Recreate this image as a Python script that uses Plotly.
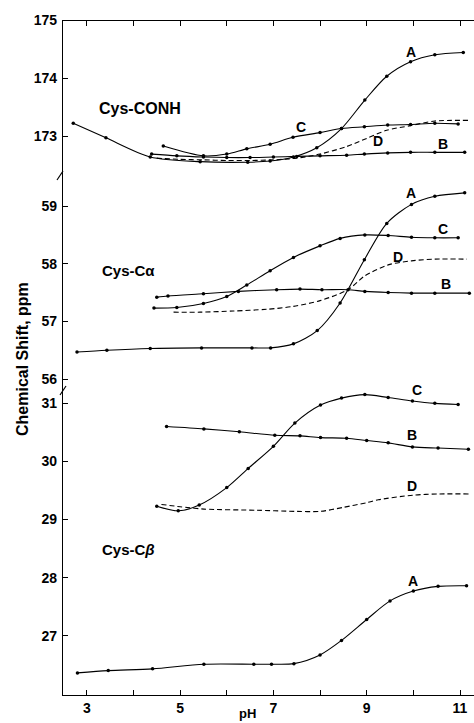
import plotly.graph_objects as go

# ---------------- data ----------------
# Cys-CONH (top panel)
conh_A_ph = [2.71, 3.41, 4.36, 5.43, 6.45, 6.93, 7.43, 7.93, 8.46, 8.96, 9.43, 9.94, 10.46, 11.07]
conh_A = [173.22, 172.97, 172.64, 172.56, 172.55, 172.57, 172.64, 172.80, 173.13, 173.62, 174.03, 174.28, 174.40, 174.44]
conh_C_ph = [4.64, 5.5, 6.0, 6.43, 6.93, 7.42, 8.0, 8.46, 8.95, 9.45, 9.94, 10.46, 10.96]
conh_C = [172.83, 172.66, 172.69, 172.78, 172.86, 172.98, 173.06, 173.13, 173.16, 173.19, 173.20, 173.22, 173.21]
conh_B_ph = [4.39, 4.93, 5.5, 6.0, 6.5, 7.0, 7.5, 8.0, 8.57, 8.95, 9.45, 9.94, 10.46, 11.1]
conh_B = [172.69, 172.66, 172.64, 172.63, 172.63, 172.64, 172.65, 172.66, 172.67, 172.69, 172.71, 172.72, 172.72, 172.72]
conh_D_ph = [4.5, 5.0, 5.5, 6.0, 6.5, 7.0, 7.5, 8.0, 8.57, 9.0, 9.43, 9.94, 10.46, 11.2]
conh_D = [172.62, 172.60, 172.59, 172.58, 172.58, 172.59, 172.62, 172.69, 172.82, 172.96, 173.10, 173.18, 173.26, 173.27]

# Cys-C alpha (middle panel)
ca_A_ph = [2.79, 3.43, 4.36, 5.46, 6.54, 6.94, 7.43, 7.94, 8.43, 8.95, 9.43, 9.96, 10.46, 11.1]
ca_A = [56.47, 56.50, 56.53, 56.54, 56.54, 56.54, 56.61, 56.84, 57.32, 58.07, 58.70, 59.03, 59.17, 59.23]
ca_C_ph = [4.44, 4.93, 5.5, 6.0, 6.43, 6.93, 7.43, 8.0, 8.43, 8.96, 9.46, 9.96, 10.46, 10.96]
ca_C = [57.23, 57.24, 57.31, 57.43, 57.63, 57.88, 58.11, 58.31, 58.44, 58.50, 58.49, 58.46, 58.45, 58.45]
ca_B_ph = [4.5, 4.74, 5.5, 6.25, 7.07, 7.57, 8.04, 8.6, 8.96, 9.46, 9.96, 10.46, 11.2]
ca_B = [57.42, 57.44, 57.48, 57.52, 57.55, 57.56, 57.55, 57.55, 57.52, 57.50, 57.49, 57.49, 57.49]
ca_D_ph = [4.86, 5.43, 6.14, 6.86, 7.43, 8.0, 8.6, 8.96, 9.46, 9.96, 10.46, 11.15]
ca_D = [57.16, 57.16, 57.18, 57.21, 57.26, 57.36, 57.55, 57.79, 57.98, 58.05, 58.08, 58.08]

# Cys-C beta (bottom panel)
cb_A_ph = [2.8, 3.46, 4.41, 5.51, 6.58, 6.96, 7.44, 8.0, 8.46, 9.0, 9.5, 10.0, 10.53, 11.14]
cb_A = [26.36, 26.40, 26.43, 26.51, 26.51, 26.51, 26.52, 26.67, 26.92, 27.28, 27.60, 27.77, 27.85, 27.86]
cb_C_ph = [4.5, 4.96, 5.41, 6.0, 6.46, 7.0, 7.46, 8.01, 8.46, 8.96, 9.46, 9.98, 10.46, 10.96]
cb_C = [29.23, 29.15, 29.25, 29.55, 29.88, 30.26, 30.66, 30.97, 31.09, 31.15, 31.10, 31.04, 31.00, 30.98]
cb_B_ph = [4.71, 5.51, 6.27, 7.03, 7.57, 8.01, 8.57, 9.0, 9.46, 9.98, 10.53, 11.18]
cb_B = [30.60, 30.56, 30.51, 30.45, 30.44, 30.41, 30.40, 30.36, 30.32, 30.25, 30.23, 30.21]
cb_D_ph = [4.6, 5.0, 5.51, 6.63, 7.5, 8.0, 8.5, 9.0, 9.25, 10.0, 10.55, 11.2]
cb_D = [29.26, 29.22, 29.18, 29.16, 29.14, 29.14, 29.21, 29.29, 29.34, 29.42, 29.44, 29.44]

x_ticks = [3, 4, 5, 6, 7, 8, 9, 10, 11]
x_ticktext = ["3", "", "5", "", "7", "", "9", "", "11"]
top_ticks = [173, 174, 175]
mid_ticks = [56, 57, 58, 59]
bot_ticks = [27, 28, 29, 30, 31]

# ---------------- figure ----------------
FONT = "Liberation Sans, Arial, sans-serif"
fig = go.Figure()

def add(xs, ys, yax, dashed=False):
    fig.add_trace(go.Scatter(
        x=xs, y=ys, xaxis="x", yaxis=yax,
        mode="lines" if dashed else "lines+markers",
        line=dict(color="black", width=1.1, shape="spline", smoothing=0.8,
                  dash="5px,3px" if dashed else "solid"),
        marker=dict(color="black", size=3.5),
        showlegend=False, hoverinfo="skip"))

add(conh_A_ph, conh_A, "y")
add(conh_C_ph, conh_C, "y")
add(conh_B_ph, conh_B, "y")
add(conh_D_ph, conh_D, "y", dashed=True)
add(ca_A_ph, ca_A, "y2")
add(ca_C_ph, ca_C, "y2")
add(ca_B_ph, ca_B, "y2")
add(ca_D_ph, ca_D, "y2", dashed=True)
add(cb_A_ph, cb_A, "y3")
add(cb_C_ph, cb_C, "y3")
add(cb_B_ph, cb_B, "y3")
add(cb_D_ph, cb_D, "y3", dashed=True)

tickfont = dict(family=FONT, size=14, color="black", weight="bold")
xr = [2.49, 11.3]

yax_common = dict(showline=True, linecolor="black", linewidth=1.2, ticks="inside",
                  ticklen=5, tickcolor="black", tickwidth=1.2, showgrid=False,
                  zeroline=False, tickfont=tickfont, anchor="x", ticklabelstandoff=2)

fig.update_layout(
    width=474, height=723,
    margin=dict(l=63, r=0, t=20, b=28),
    paper_bgcolor="white", plot_bgcolor="white",
    xaxis=dict(range=xr, anchor="y3", showline=True, linecolor="black", linewidth=1.2,
               ticks="inside", ticklen=5, tickcolor="black", tickwidth=1.2,
               tickvals=x_ticks, ticktext=x_ticktext, tickfont=tickfont,
               showgrid=False, zeroline=False),
    xaxis2=dict(range=xr, overlaying="x", side="top", anchor="free", position=1,
                showline=True, linecolor="black", linewidth=1.2,
                ticks="inside", ticklen=5, tickcolor="black", tickwidth=1.2,
                tickvals=x_ticks, showticklabels=False, showgrid=False, zeroline=False),
    yaxis=dict(domain=[0.7704, 1], range=[172.33, 175], tickvals=top_ticks, **yax_common),
    yaxis2=dict(domain=[0.4519, 0.7704], range=[55.81, 59.54], tickvals=mid_ticks, **yax_common),
    yaxis3=dict(domain=[0, 0.4519], range=[25.98, 31.23], tickvals=bot_ticks, **yax_common),
)

# dummy trace so xaxis2 renders
fig.add_trace(go.Scatter(x=[None], y=[None], xaxis="x2", yaxis="y", showlegend=False))

lab = dict(family=FONT, size=14, color="black", weight="bold")
labels = [
    ("A", 9.96, 174.45, "y"), ("C", 7.59, 173.16, "y"), ("D", 9.24, 172.91, "y"), ("B", 10.63, 172.86, "y"),
    ("A", 9.95, 59.23, "y2"), ("C", 10.63, 58.60, "y2"), ("D", 9.68, 58.12, "y2"), ("B", 10.69, 57.65, "y2"),
    ("C", 10.07, 31.23, "y3"), ("B", 9.98, 30.45, "y3"), ("D", 9.98, 29.58, "y3"), ("A", 10.0, 27.95, "y3"),
]
for t, x, y, ya in labels:
    fig.add_annotation(text=t, x=x, y=y, xref="x", yref=ya, showarrow=False, font=lab)

panel_font = dict(family=FONT, size=15, color="black", weight="bold")
fig.add_annotation(text="Cys-CONH", x=3.22, y=173.48, xref="x", yref="y", xanchor="left",
                   showarrow=False, font=dict(family=FONT, size=16, color="black", weight="bold"))
fig.add_annotation(text="Cys-Cα", x=3.29, y=57.88, xref="x", yref="y2", xanchor="left",
                   showarrow=False, font=panel_font)
fig.add_annotation(text="Cys-C<i>β</i>", x=3.29, y=28.49, xref="x", yref="y3", xanchor="left",
                   showarrow=False, font=panel_font)

fig.add_annotation(text="Chemical Shift, ppm", x=(22 - 63) / 411, y=(695 - 359) / 675,
                   xref="paper", yref="paper", xanchor="center", yanchor="middle",
                   textangle=-90, showarrow=False,
                   font=dict(family=FONT, size=16, color="black", weight="bold"))
fig.add_annotation(text="pH", x=(247 - 63) / 411, y=(695 - 713) / 675, xref="paper", yref="paper",
                   xanchor="center", yanchor="middle", showarrow=False,
                   font=dict(family=FONT, size=13, color="black", weight="bold"))

# axis break marks
for (x0, y0, x1, y1) in [(57, 180, 63, 171), (60, 395, 66, 386)]:
    fig.add_shape(type="line", xref="paper", yref="paper",
                  x0=(x0 - 63) / 411, y0=(695 - y0) / 675, x1=(x1 - 63) / 411, y1=(695 - y1) / 675,
                  line=dict(color="black", width=1.2))

fig.write_html("out.html")
